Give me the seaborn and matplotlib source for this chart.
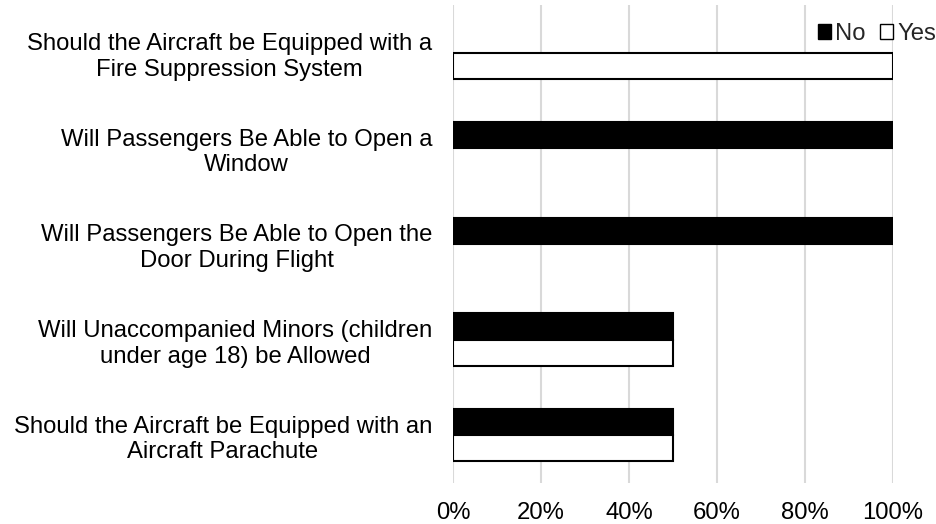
import matplotlib
matplotlib.use("Agg")
import matplotlib.pyplot as plt
import seaborn as sns
import pandas as pd
from matplotlib.patches import Patch
from matplotlib.ticker import PercentFormatter

categories = [
    "Should the Aircraft be Equipped with a\nFire Suppression System",
    "Will Passengers Be Able to Open a\nWindow",
    "Will Passengers Be Able to Open the\nDoor During Flight",
    "Will Unaccompanied Minors (children\nunder age 18) be Allowed",
    "Should the Aircraft be Equipped with an\nAircraft Parachute",
]
no_values = [0, 100, 100, 50, 50]
yes_values = [100, 0, 0, 50, 50]
series = ["No", "Yes"]
x_ticks = [0, 20, 40, 60, 80, 100]

rows = []
for c, n, y in zip(categories, no_values, yes_values):
    rows.append({"q": c, "ans": "No", "val": n})
    rows.append({"q": c, "ans": "Yes", "val": y})
df = pd.DataFrame(rows)

sns.set_theme(style="white")
plt.rcParams["font.family"] = ["Liberation Sans", "DejaVu Sans"]

FS = 17.2

fig = plt.figure(figsize=(9.37, 5.24), dpi=100)
ax = fig.add_axes([453/937, 1-483/524, 440/937, 478/524])

sns.barplot(data=df, y="q", x="val", hue="ans", hue_order=series, order=categories,
            palette={"No": "black", "Yes": "white"}, edgecolor="black", linewidth=1.5,
            width=0.55, orient="h", ax=ax, legend=False)

for p in ax.patches:
    if p.get_width() == 0:
        p.set_visible(False)

ax.set_xlim(0, 100)
ax.set_ylim(len(categories) - 0.5, -0.5)
ax.set_xticks(x_ticks)
ax.xaxis.set_major_formatter(PercentFormatter(decimals=0))
ax.grid(axis="x", color="#d9d9d9", linewidth=1.5)
ax.set_axisbelow(True)
for s in ax.spines.values():
    s.set_visible(False)
ax.set_xlabel("")
ax.set_ylabel("")
ax.tick_params(axis="x", length=0, pad=14, labelsize=FS, colors="black")
ax.tick_params(axis="y", length=0, pad=15, labelsize=FS, colors="black")
for t in ax.get_yticklabels():
    t.set_multialignment("center")
    t.set_linespacing(1.2)

handles = [Patch(facecolor="black", edgecolor="black", linewidth=1),
           Patch(facecolor="white", edgecolor="black", linewidth=1)]
fig.legend(handles, series, ncol=2, frameon=False, loc="upper right",
           bbox_to_anchor=(936/937, 1-23/524), fontsize=FS, handlelength=0.55, handleheight=0.55,
           handletextpad=0.17, columnspacing=0.6, borderaxespad=0, borderpad=0)

fig.savefig("out.png", dpi=100)
